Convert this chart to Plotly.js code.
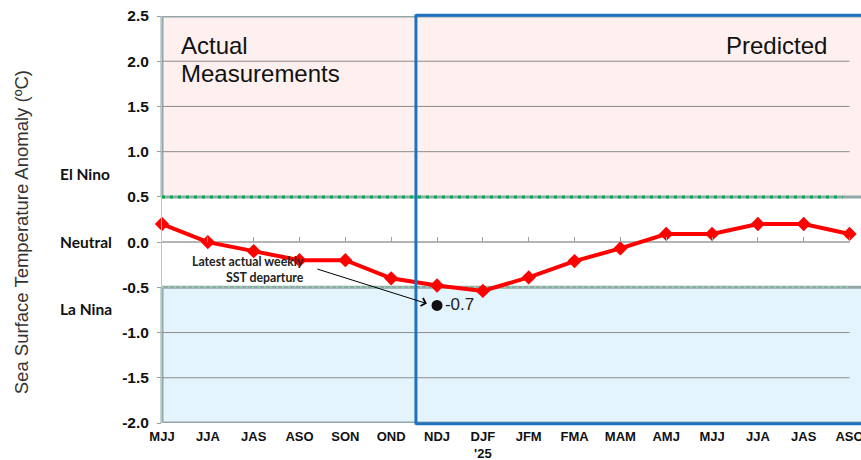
<!DOCTYPE html>
<html>
<head>
<meta charset="utf-8">
<script src="https://cdn.plot.ly/plotly-3.0.1.min.js"></script>
<style>html,body{margin:0;padding:0;background:#fff;}#chart{width:861px;height:460px;}</style>
</head>
<body>
<div id="chart"></div>
<script>
// ---- data ----
const seasons = ['MJJ','JJA','JAS','ASO','SON','OND','NDJ',"DJF<br>'25",'JFM','FMA','MAM','AMJ','MJJ','JJA','JAS','ASO'];
const anomaly = [0.2, 0.0, -0.1, -0.2, -0.2, -0.4, -0.48, -0.54, -0.39, -0.21, -0.07, 0.09, 0.09, 0.2, 0.2, 0.09];
const latestWeeklySeason = 6;      // NDJ
const latestWeeklyValue = -0.7;
const yTickVals = [-2.0, -1.5, -1.0, -0.5, 0.0, 0.5, 1.0, 1.5, 2.0, 2.5];
const yTickText = ['-2.0', '-1.5', '-1.0', '-0.5', '0.0', '0.5', '1.0', '1.5', '2.0', '2.5'];
const gridVals = [-1.5, -1.0, 1.0, 1.5, 2.0];
const phaseLabels = ['El Nino', 'Neutral', 'La Nina'];
const phaseValues = [0.75, 0.0, -0.74];
const elNinoThreshold = 0.5;
const laNinaThreshold = -0.5;

// ---- layout constants ----
const idx = seasons.map((_, i) => i);
const lastIdx = seasons.length - 1;
const predictedStart = 5.54;
const yMin = -2.0, yMax = 2.5;
const fontArial = 'Liberation Sans, Arial, sans-serif';
const fontCal = 'Lato, Carlito, Calibri, sans-serif';
const borderGray = '#93a6a8';

const shapes = [];
// regions
shapes.push({type:'rect', xref:'paper', yref:'y', x0:0, x1:1, y0:elNinoThreshold, y1:yMax, fillcolor:'#fdf0ee', line:{width:0}, layer:'below'});
shapes.push({type:'rect', xref:'paper', yref:'y', x0:0, x1:1, y0:yMin, y1:laNinaThreshold, fillcolor:'#e3f4fc', line:{width:0}, layer:'below'});
// gridlines
gridVals.forEach(v => shapes.push({type:'line', xref:'x', yref:'y', x0:0, x1:lastIdx, y0:v, y1:v, line:{color:'#8c8c8c', width:1}, layer:'below'}));
// zero line
shapes.push({type:'line', xref:'x', yref:'y', x0:0, x1:lastIdx, y0:0, y1:0, line:{color:'#b4b4b4', width:2}, layer:'below'});
// region borders
[[elNinoThreshold, yMax], [yMin, laNinaThreshold]].forEach(([a, b]) => {
  shapes.push({type:'line', xref:'paper', yref:'y', x0:0, x1:0, y0:a, y1:b, line:{color:borderGray, width:3}, layer:'below'});
  shapes.push({type:'line', xref:'paper', yref:'y', x0:0, x1:1, y0:a, y1:a, line:{color:borderGray, width:3}, layer:'below'});
  shapes.push({type:'line', xref:'paper', yref:'y', x0:0, x1:1, y0:b, y1:b, line:{color:borderGray, width:3}, layer:'below'});
});
// threshold dotted lines
shapes.push({type:'line', xref:'x', yref:'y', x0:0, x1:lastIdx - 0.15, y0:elNinoThreshold, y1:elNinoThreshold, line:{color:'#00b050', width:3, dash:'3px,5px'}, layer:'below'});
shapes.push({type:'line', xref:'x', yref:'y', x0:0, x1:lastIdx, y0:laNinaThreshold, y1:laNinaThreshold, line:{color:'#8fd3a8', width:2, dash:'2px,4px'}, layer:'below'});
// predicted outline
shapes.push({type:'line', xref:'x', yref:'paper', x0:predictedStart, x1:predictedStart, y0:-0.004, y1:1.004, line:{color:'#1f72c0', width:3}, layer:'above'});
shapes.push({type:'line', xref:'x', yref:'paper', x0:predictedStart, x1:15.3, y0:1.002, y1:1.002, line:{color:'#1f72c0', width:3}, layer:'above'});
shapes.push({type:'line', xref:'x', yref:'paper', x0:predictedStart, x1:15.3, y0:-0.002, y1:-0.002, line:{color:'#1f72c0', width:3}, layer:'above'});

const annotations = [];
annotations.push({xref:'x', yref:'y', x:0.36, y:2.17, xanchor:'left', yanchor:'middle', align:'left', showarrow:false,
  text:'Actual', font:{family:fontArial, size:24, color:'#111'}});
annotations.push({xref:'x', yref:'y', x:0.36, y:1.86, xanchor:'left', yanchor:'middle', align:'left', showarrow:false,
  text:'Measurements', font:{family:fontArial, size:24, color:'#111'}});
annotations.push({xref:'x', yref:'y', x:14.56, y:2.17, xanchor:'right', yanchor:'middle', showarrow:false,
  text:'Predicted', font:{family:fontArial, size:24, color:'#111'}});
phaseLabels.forEach((t, i) => annotations.push({xref:'paper', yref:'y', x:-0.1488, y:phaseValues[i], xanchor:'left', yanchor:'middle', showarrow:false,
  text:'<b>' + t + '</b>', font:{family:fontCal, size:15.5, color:'#111'}}));
annotations.push({xref:'paper', yref:'paper', x:-0.2007, y:0.468, xanchor:'center', yanchor:'middle', textangle:-90, showarrow:false,
  text:'Sea Surface Temperature Anomaly (ºC)', font:{family:fontArial, size:18.5, color:'#333'}});
annotations.push({xref:'x', yref:'y', x:3.14, y:-0.30, xanchor:'right', yanchor:'middle', align:'right', showarrow:false,
  text:'<b>Latest actual weekly<br>SST departure</b>', font:{family:fontCal, size:12.3, color:'#222'}});
annotations.push({xref:'x', yref:'y', x:5.78, y:-0.68, ax:-111, ay:-35, showarrow:true, arrowhead:4, arrowsize:1.6, arrowwidth:1, arrowcolor:'#000', text:''});

const traces = [
  {x: idx, y: anomaly, type:'scatter', mode:'lines+markers', cliponaxis:false,
   line:{color:'#ff0000', width:4}, marker:{symbol:'diamond', size:11, color:'#ff0000'}, showlegend:false, hoverinfo:'y'},
  {x:[latestWeeklySeason], y:[latestWeeklyValue], type:'scatter', mode:'markers+text', text:[String(latestWeeklyValue)],
   textposition:'middle right', textfont:{family:fontArial, size:17, color:'#222'},
   marker:{size:11, color:'#111'}, showlegend:false, cliponaxis:false},
  {x:[0], y:[null], xaxis:'x2', type:'scatter', mode:'markers', showlegend:false, hoverinfo:'skip'}
];

const layout = {
  width:861, height:460,
  margin:{l:162, r:0, t:16, b:37, pad:0},
  paper_bgcolor:'#fff', plot_bgcolor:'rgba(0,0,0,0)',
  showlegend:false,
  xaxis:{range:[0, 15.25], tickvals:idx, ticktext:seasons, showgrid:false, zeroline:false, showline:false, ticks:'',
    ticklabeloverflow:'allow', ticklabelstandoff:4,
    tickfont:{family:fontArial, size:13, color:'#111', weight:'bold'}, fixedrange:true},
  xaxis2:{overlaying:'x', anchor:'free', position:(0 - yMin) / (yMax - yMin), range:[0, 15.25], tickvals:idx,
    showticklabels:false, ticks:'inside', ticklen:5, tickcolor:'#a0a0a0', tickwidth:1, showgrid:false, zeroline:false, showline:false},
  yaxis:{range:[yMin, yMax], tickvals:yTickVals, ticktext:yTickText, showgrid:false, zeroline:false,
    showline:true, linecolor:'#c4c4c4', linewidth:1, ticks:'outside', ticklen:4, tickcolor:'#a0a0a0',
    ticklabelstandoff:5, tickfont:{family:fontArial, size:15.5, color:'#111', weight:'bold'}},
  shapes: shapes,
  annotations: annotations
};

Plotly.newPlot('chart', traces, layout, {displayModeBar:false, staticPlot:true});
</script>
</body>
</html>
